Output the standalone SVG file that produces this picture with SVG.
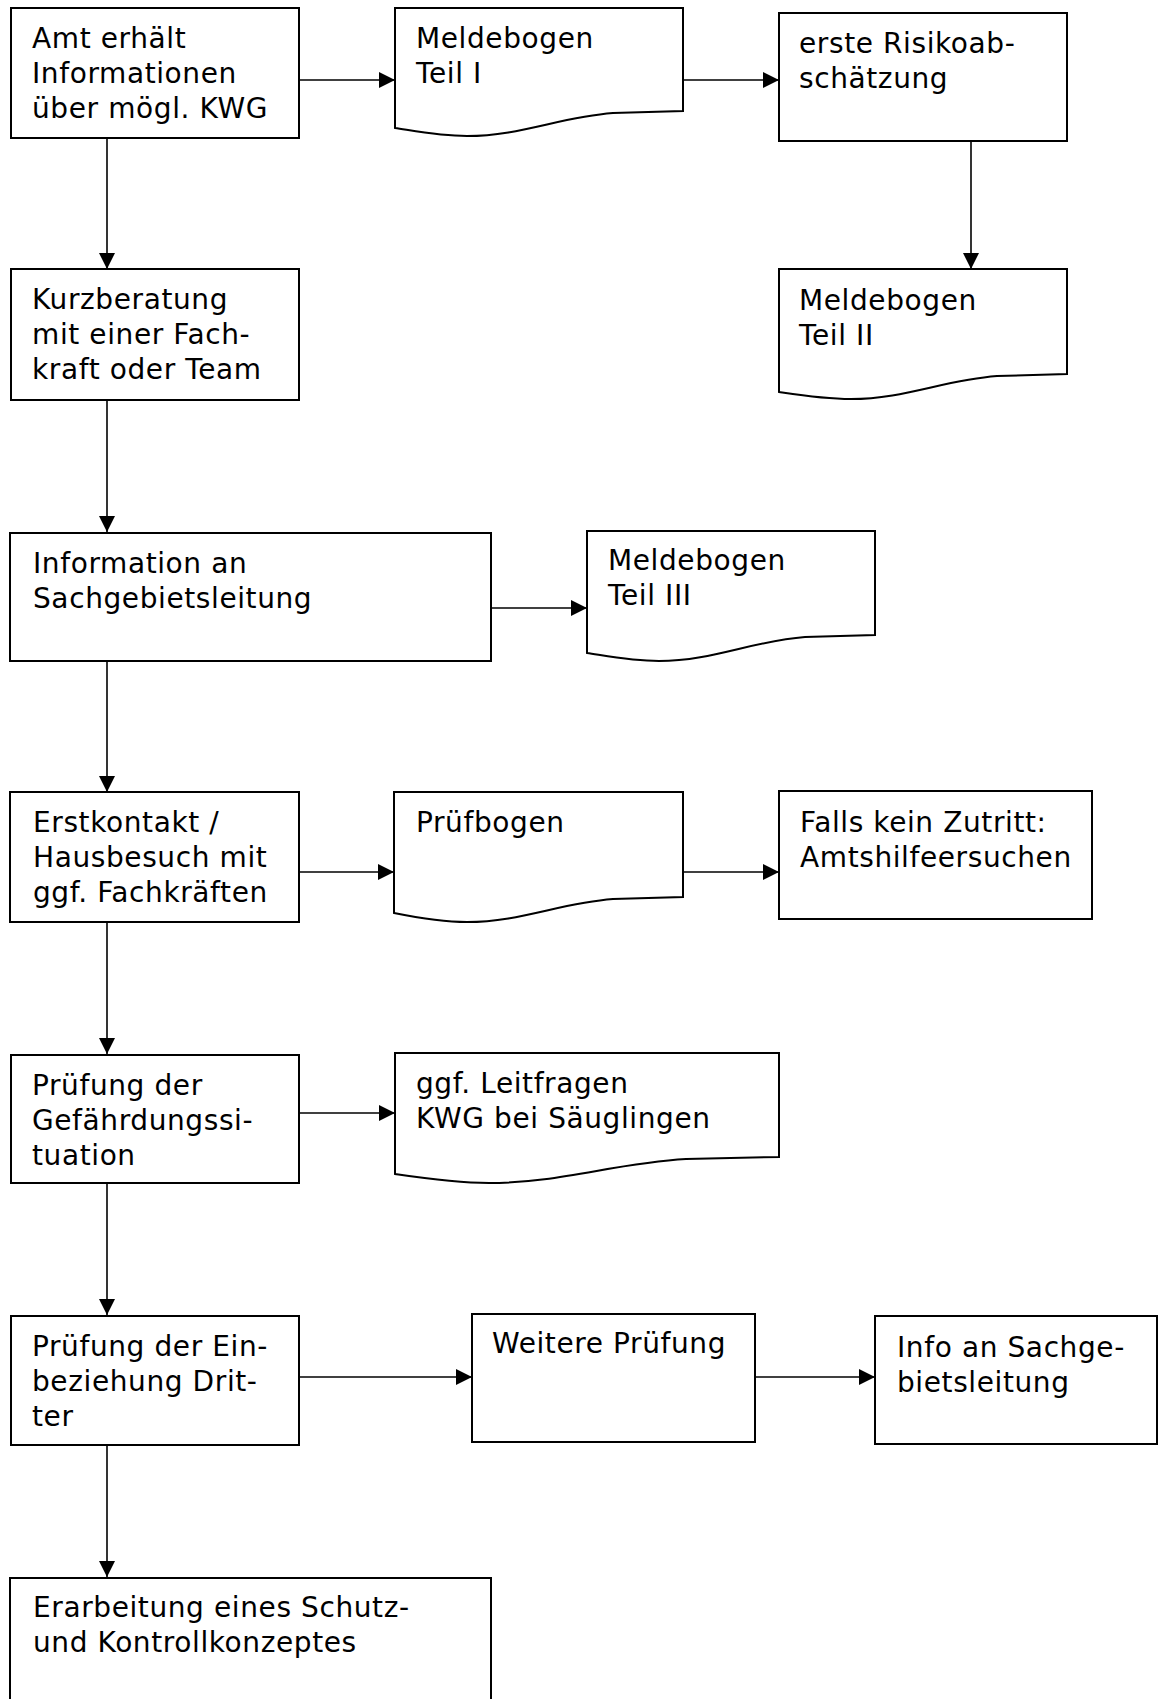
<svg xmlns="http://www.w3.org/2000/svg" width="1158" height="1699" viewBox="0 0 1158 1699">
<style>
  .box { fill: #fff; stroke: #000; stroke-width: 2; }
  .lbl { font-family: "DejaVu Sans", Verdana, sans-serif; font-size: 28px; letter-spacing: 0.6px; fill: #000; }
  .con { fill: none; stroke: #000; stroke-width: 1.6; }
</style>
<defs>
  <marker id="arr" markerUnits="userSpaceOnUse" markerWidth="17" markerHeight="16" refX="16" refY="8" orient="auto">
    <path d="M0,0 L16,8 L0,16 Z" fill="#000"/>
  </marker>
</defs>
<rect width="1158" height="1699" fill="#fff"/>

<g id="connectors">
  <line class="con" x1="299" y1="80" x2="395" y2="80" marker-end="url(#arr)"/>
  <line class="con" x1="683" y1="80" x2="779" y2="80" marker-end="url(#arr)"/>
  <line class="con" x1="971" y1="141" x2="971" y2="269" marker-end="url(#arr)"/>
  <line class="con" x1="107" y1="138" x2="107" y2="269" marker-end="url(#arr)"/>
  <line class="con" x1="107" y1="400" x2="107" y2="532" marker-end="url(#arr)"/>
  <line class="con" x1="491" y1="608" x2="587" y2="608" marker-end="url(#arr)"/>
  <line class="con" x1="107" y1="661" x2="107" y2="792" marker-end="url(#arr)"/>
  <line class="con" x1="299" y1="872" x2="394" y2="872" marker-end="url(#arr)"/>
  <line class="con" x1="683" y1="872" x2="779" y2="872" marker-end="url(#arr)"/>
  <line class="con" x1="107" y1="922" x2="107" y2="1054" marker-end="url(#arr)"/>
  <line class="con" x1="299" y1="1113" x2="395" y2="1113" marker-end="url(#arr)"/>
  <line class="con" x1="107" y1="1183" x2="107" y2="1315" marker-end="url(#arr)"/>
  <line class="con" x1="299" y1="1377" x2="472" y2="1377" marker-end="url(#arr)"/>
  <line class="con" x1="755" y1="1377" x2="875" y2="1377" marker-end="url(#arr)"/>
  <line class="con" x1="107" y1="1445" x2="107" y2="1577" marker-end="url(#arr)"/>
</g>

<g id="n1">
  <rect class="box" x="11" y="8" width="288" height="130"/>
  <text class="lbl" x="32" y="48">Amt erhält</text>
  <text class="lbl" x="32" y="83">Informationen</text>
  <text class="lbl" x="32" y="118">über mögl. KWG</text>
</g>

<g id="n2">
  <path class="box" d="M395,8 H683 V111 L613,113 C560,117 520,136 467,136 C440,136 415,131 395,128 Z"/>
  <text class="lbl" x="416" y="48">Meldebogen</text>
  <text class="lbl" x="416" y="83">Teil I</text>
</g>

<g id="n3">
  <rect class="box" x="779" y="13" width="288" height="128"/>
  <text class="lbl" x="799" y="53">erste Risikoab-</text>
  <text class="lbl" x="799" y="88">schätzung</text>
</g>

<g id="n4">
  <path class="box" d="M779,269 H1067 V374 L997,376 C944,380 904,399 851,399 C824,399 799,395 779,392 Z"/>
  <text class="lbl" x="799" y="310">Meldebogen</text>
  <text class="lbl" x="799" y="345">Teil II</text>
</g>

<g id="n5">
  <rect class="box" x="11" y="269" width="288" height="131"/>
  <text class="lbl" x="32" y="309">Kurzberatung</text>
  <text class="lbl" x="32" y="344">mit einer Fach-</text>
  <text class="lbl" x="32" y="379">kraft oder Team</text>
</g>

<g id="n6">
  <rect class="box" x="10" y="533" width="481" height="128"/>
  <text class="lbl" x="33" y="573">Information an</text>
  <text class="lbl" x="33" y="608">Sachgebietsleitung</text>
</g>

<g id="n7">
  <path class="box" d="M587,531 H875 V635 L805,637 C752,641 712,661 659,661 C632,661 607,656 587,653 Z"/>
  <text class="lbl" x="608" y="570">Meldebogen</text>
  <text class="lbl" x="608" y="605">Teil III</text>
</g>

<g id="n8">
  <rect class="box" x="10" y="792" width="289" height="130"/>
  <text class="lbl" x="33" y="832">Erstkontakt /</text>
  <text class="lbl" x="33" y="867">Hausbesuch mit</text>
  <text class="lbl" x="33" y="902">ggf. Fachkräften</text>
</g>

<g id="n9">
  <path class="box" d="M394,792 H683 V897 L613,899 C560,903 520,922 467,922 C440,922 414,917 394,913 Z"/>
  <text class="lbl" x="416" y="832">Prüfbogen</text>
</g>

<g id="n10">
  <rect class="box" x="779" y="791" width="313" height="128"/>
  <text class="lbl" x="800" y="832">Falls kein Zutritt:</text>
  <text class="lbl" x="800" y="867">Amtshilfeersuchen</text>
</g>

<g id="n11">
  <rect class="box" x="11" y="1055" width="288" height="128"/>
  <text class="lbl" x="32" y="1095">Prüfung der</text>
  <text class="lbl" x="32" y="1130">Gefährdungssi-</text>
  <text class="lbl" x="32" y="1165">tuation</text>
</g>

<g id="n12">
  <path class="box" d="M395,1053 H779 V1157 L686,1159 C615,1163 560,1183 489,1183 C455,1183 422,1178 395,1174 Z"/>
  <text class="lbl" x="416" y="1093">ggf. Leitfragen</text>
  <text class="lbl" x="416" y="1128">KWG bei Säuglingen</text>
</g>

<g id="n13">
  <rect class="box" x="11" y="1316" width="288" height="129"/>
  <text class="lbl" x="32" y="1356">Prüfung der Ein-</text>
  <text class="lbl" x="32" y="1391">beziehung Drit-</text>
  <text class="lbl" x="32" y="1426">ter</text>
</g>

<g id="n14">
  <rect class="box" x="472" y="1314" width="283" height="128"/>
  <text class="lbl" x="492" y="1353">Weitere Prüfung</text>
</g>

<g id="n15">
  <rect class="box" x="875" y="1316" width="282" height="128"/>
  <text class="lbl" x="897" y="1357">Info an Sachge-</text>
  <text class="lbl" x="897" y="1392">bietsleitung</text>
</g>

<g id="n16">
  <rect class="box" x="10" y="1578" width="481" height="140"/>
  <text class="lbl" x="33" y="1617">Erarbeitung eines Schutz-</text>
  <text class="lbl" x="33" y="1652">und Kontrollkonzeptes</text>
</g>
</svg>
